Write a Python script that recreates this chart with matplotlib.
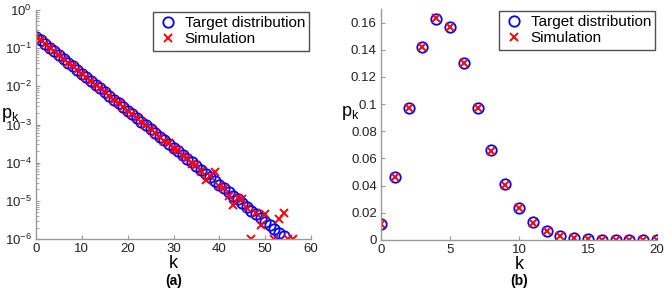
import matplotlib
matplotlib.use("Agg")
import matplotlib.pyplot as plt
from matplotlib.ticker import LogLocator, NullFormatter

plt.rcParams['font.family'] = ['Liberation Sans', 'DejaVu Sans']

# (a) geometric distribution, log scale
k_a = list(range(0, 55))
target_a = [0.2, 0.16, 0.128, 0.1024, 0.08192, 0.06554, 0.05243, 0.04194, 0.03355, 0.02684,
            0.02147, 0.01718, 0.01374, 0.011, 0.008796, 0.007037, 0.005629, 0.004504, 0.003603, 0.002882,
            0.002306, 0.001845, 0.001476, 0.001181, 0.0009445, 0.0007556, 0.0006045, 0.0004836, 0.0003869, 0.0003095,
            0.0002476, 0.0001981, 0.0001585, 0.0001268, 0.0001014, 8.113e-5, 6.49e-5, 5.192e-5, 4.154e-5, 3.323e-5,
            2.658e-5, 2.127e-5, 1.701e-5, 1.361e-5, 1.089e-5, 8.711e-6, 6.969e-6, 5.575e-6, 4.46e-6, 3.568e-6,
            2.854e-6, 2.284e-6, 1.827e-6, 1.461e-6, 1.169e-6]
k_sim_a = list(range(0, 51)) + [52, 53, 54, 55, 56]
sim_a = [0.201, 0.159, 0.128, 0.1021, 0.0822, 0.0654, 0.0526, 0.0418, 0.0336, 0.0268,
         0.0215, 0.0171, 0.0138, 0.0110, 0.00884, 0.00702, 0.00566, 0.00449, 0.00362, 0.00287,
         0.00232, 0.00183, 0.00149, 0.00117, 0.00095, 0.00075, 0.00061, 0.00048, 0.00037, 0.00032,
         0.00023, 0.00021, 0.00015, 0.000135, 9.5e-5, 8.6e-5, 6.0e-5, 3.5e-5, 4.4e-5, 5.7e-5,
         2.4e-5, 2.2e-5, 1.3e-5, 8.0e-6, 1.2e-5, 1.1e-5, 6.5e-6, 1.0e-6, 4.7e-6, 2.3e-6,
         4.6e-6, 1.0e-6, 3.4e-6, 4.9e-6, 1.0e-6, 1.0e-6]

# (b)
k_b = list(range(0, 21))
target_b = [0.0117, 0.0465, 0.097, 0.142, 0.163, 0.157, 0.130, 0.097, 0.0659, 0.041,
            0.0237, 0.0129, 0.0069, 0.0032, 0.0015, 0.0007, 0.0003, 0.0001, 0.00005, 0.00002, 0.00001]
sim_b = [0.0116, 0.0463, 0.0968, 0.1418, 0.1632, 0.1568, 0.1302, 0.0969, 0.0658, 0.0408,
         0.0236, 0.0128, 0.0068, 0.0032, 0.0015, 0.0007, 0.0003, 0.0001, 0.00005, 0.00002, 0.00001]
ytick_b = [0, 0.02, 0.04, 0.06, 0.08, 0.1, 0.12, 0.14, 0.16]

W, H = 664, 288
fig = plt.figure(figsize=(6.64, 2.88), dpi=100)
ax1 = fig.add_axes([36 / W, 1 - 239 / H, 275 / W, 229 / H])
ax2 = fig.add_axes([381 / W, 1 - 240 / H, 276 / W, 231 / H])

spine_col = '#9a9a9a'


def style(ax):
    for s in ['top', 'right']:
        ax.spines[s].set_visible(False)
    for s in ['left', 'bottom']:
        ax.spines[s].set_color(spine_col)
        ax.spines[s].set_linewidth(1.0)
    ax.tick_params(direction='in', length=3, width=0.8, color=spine_col, labelsize=9.5, labelcolor='#222222', pad=3)
    ax.tick_params(which='minor', direction='in', length=2, width=0.6, color=spine_col)


def legend(ax):
    ax.legend(loc='upper right', bbox_to_anchor=(1.0, 1.0), fontsize=11, frameon=True, fancybox=False,
              edgecolor='#222222', handletextpad=0.45, borderpad=0.3, labelspacing=0.15, handlelength=1.3,
              borderaxespad=0.1)


ax1.semilogy(k_a, target_a, 'o', mfc='none', mec='blue', ms=7.5, mew=1.3, label='Target distribution')
ax1.semilogy(k_sim_a, sim_a, 'x', color='red', ms=5.5, mew=1.4, label='Simulation')
ax1.set_xlim(0, 60)
ax1.set_ylim(1e-6, 1)
ax1.set_xticks(range(0, 61, 10))
ax1.yaxis.set_major_locator(LogLocator(base=10, numticks=10))
ax1.yaxis.set_minor_locator(LogLocator(base=10, subs=range(2, 10), numticks=10))
ax1.yaxis.set_minor_formatter(NullFormatter())
style(ax1)
ax1.set_xlabel('k', fontsize=13, labelpad=0)
ax1.set_ylabel('p$_\\mathregular{k}$', fontsize=13, rotation=0, ha='center', va='center')
ax1.yaxis.set_label_coords(-0.095, 0.54)
legend(ax1)
fig.text((36 + 275 / 2) / W, 3 / H, '(a)', ha='center', va='baseline', fontsize=10, fontweight='bold')

ax2.plot(k_b, target_b, 'o', mfc='none', mec='blue', ms=7.5, mew=1.3, label='Target distribution')
ax2.plot(k_b, sim_b, 'x', color='red', ms=5.5, mew=1.4, label='Simulation')
ax2.set_xlim(0, 20)
ax2.set_ylim(0, 0.17)
ax2.set_xticks(range(0, 21, 5))
ax2.set_yticks(ytick_b)
ax2.set_yticklabels(['%g' % v for v in ytick_b])
style(ax2)
ax2.set_xlabel('k', fontsize=13, labelpad=0)
ax2.set_ylabel('p$_\\mathregular{k}$', fontsize=13, rotation=0, ha='center', va='center')
ax2.yaxis.set_label_coords(-0.112, 0.55)
legend(ax2)
fig.text((381 + 276 / 2) / W, 3 / H, '(b)', ha='center', va='baseline', fontsize=10, fontweight='bold')

fig.savefig('out.png', dpi=100)
